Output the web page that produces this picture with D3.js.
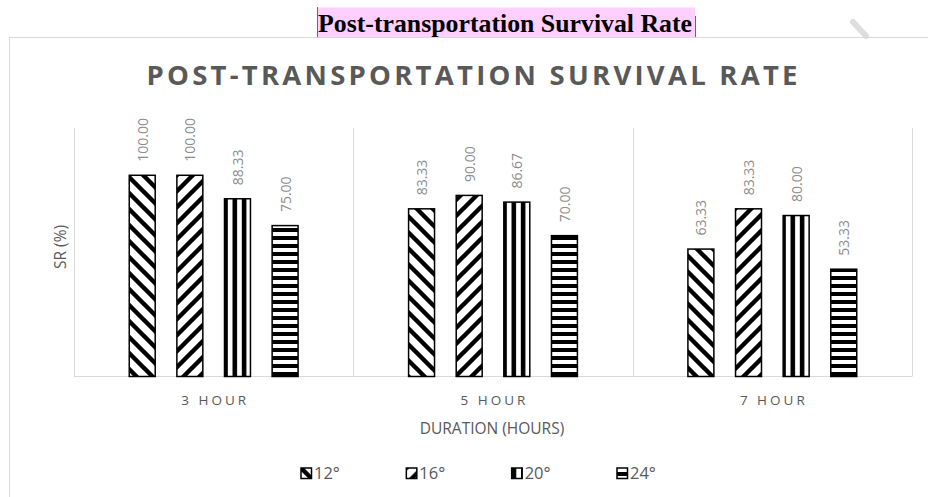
<!DOCTYPE html>
<html lang="en">
<head>
    <meta charset="UTF-8">
    <title>Post-transportation Survival Rate</title>
    <style>
        body { margin: 0; background: #fff; }
        svg { display: block; }
    </style>
</head>
<body>
    <div id="chart"></div>
    <script src="https://d3js.org/d3.v7.min.js"></script>
    <script>
        const categories = ["3 HOUR", "5 HOUR", "7 HOUR"];
        const seriesNames = ["12°", "16°", "20°", "24°"];
        const values12 = [100.00, 83.33, 63.33];
        const values16 = [100.00, 90.00, 83.33];
        const values20 = [88.33, 86.67, 80.00];
        const values24 = [75.00, 70.00, 53.33];
        const seriesValues = [values12, values16, values20, values24];
        const patternIds = ["diagDown", "diagUp", "vStripe", "hStripe"];

        const width = 928;
        const height = 497;
        const plot = {left: 74, right: 912, top: 128, bottom: 376.5};

        const svg = d3.select("#chart").append("svg")
            .attr("width", width)
            .attr("height", height);

        // patterns
        const defs = svg.append("defs");
        const diag = (id, flip) => {
            const p = defs.append("pattern")
                .attr("id", id)
                .attr("patternUnits", "userSpaceOnUse")
                .attr("width", 16)
                .attr("height", 16);
            p.append("rect").attr("width", 16).attr("height", 16).attr("fill", "#fff");
            const d = flip
                ? "M-4,4 L4,-4 M0,16 L16,0 M12,20 L20,12"
                : "M-4,12 L4,20 M0,0 L16,16 M12,-4 L20,4";
            p.append("path").attr("d", d)
                .attr("stroke", "#000")
                .attr("stroke-width", 4.4);
        };
        diag("diagDown", false);
        diag("diagUp", true);

        const vp = defs.append("pattern")
            .attr("id", "vStripe")
            .attr("patternUnits", "userSpaceOnUse")
            .attr("width", 9.3).attr("height", 10);
        vp.append("rect").attr("width", 9.3).attr("height", 10).attr("fill", "#fff");
        vp.append("rect").attr("width", 4.6).attr("height", 10).attr("fill", "#000");

        const hp = defs.append("pattern")
            .attr("id", "hStripe")
            .attr("patternUnits", "userSpaceOnUse")
            .attr("width", 10).attr("height", 8);
        hp.append("rect").attr("width", 10).attr("height", 8).attr("fill", "#fff");
        hp.append("rect").attr("y", 4).attr("width", 10).attr("height", 4).attr("fill", "#000");

        // header strip above the chart
        svg.append("rect")
            .attr("x", 317).attr("y", 7.5)
            .attr("width", 378).attr("height", 29.5)
            .attr("fill", "#ffd0ff");
        svg.append("line")
            .attr("x1", 317.5).attr("x2", 317.5).attr("y1", 7).attr("y2", 37)
            .attr("stroke", "#a040a0");
        svg.append("line")
            .attr("x1", 695.5).attr("x2", 695.5).attr("y1", 16).attr("y2", 37)
            .attr("stroke", "#a040a0");
        svg.append("line")
            .attr("x1", 695).attr("x2", width).attr("y1", 37.5).attr("y2", 37.5)
            .attr("stroke", "#b060b0")
            .attr("stroke-dasharray", "1,1");
        svg.append("text")
            .attr("x", 318).attr("y", 31.5)
            .attr("font-family", "'Liberation Serif', 'Times New Roman', serif")
            .attr("font-weight", "bold")
            .attr("font-size", 25.8)
            .attr("fill", "#000")
            .text("Post-transportation Survival Rate");
        svg.append("line")
            .attr("x1", 853).attr("y1", 22).attr("x2", 866).attr("y2", 36)
            .attr("stroke", "#dedede")
            .attr("stroke-width", 6)
            .attr("stroke-linecap", "round");

        // chart border
        svg.append("rect")
            .attr("x", 9.5).attr("y", 37.5)
            .attr("width", 960).attr("height", 500)
            .attr("fill", "none")
            .attr("stroke", "#d9d9d9");

        // scales
        const x0 = d3.scaleBand()
            .domain(categories)
            .range([plot.left, plot.right]);
        const x1 = d3.scaleBand()
            .domain(seriesNames)
            .range([0, x0.bandwidth()])
            .paddingInner(0.455)
            .paddingOuter(1.16);
        const y = d3.scaleLinear()
            .domain([0, 123.5])
            .range([plot.bottom, plot.top]);

        // vertical gridlines between categories
        const gridX = categories.map(c => x0(c)).concat([plot.right]);
        svg.append("g")
            .selectAll("line")
            .data(gridX)
            .join("line")
            .attr("x1", d => Math.round(d) + 0.5)
            .attr("x2", d => Math.round(d) + 0.5)
            .attr("y1", plot.top)
            .attr("y2", plot.bottom)
            .attr("stroke", "#d9d9d9");

        svg.append("line")
            .attr("x1", plot.left).attr("x2", plot.right)
            .attr("y1", plot.bottom).attr("y2", plot.bottom)
            .attr("stroke", "#d9d9d9");

        // bars
        const barData = [];
        seriesNames.forEach((s, i) => {
            categories.forEach((c, j) => {
                barData.push({cat: c, series: s, value: seriesValues[i][j], pat: patternIds[i]});
            });
        });

        svg.append("g")
            .selectAll("rect")
            .data(barData)
            .join("rect")
            .attr("x", d => x0(d.cat) + x1(d.series))
            .attr("y", d => y(d.value))
            .attr("width", x1.bandwidth())
            .attr("height", d => y(0) - y(d.value))
            .attr("fill", d => `url(#${d.pat})`)
            .attr("stroke", "#000")
            .attr("stroke-width", 1.5);

        // value labels
        svg.append("g")
            .attr("font-family", "'Open Sans', sans-serif")
            .attr("font-size", 14)
            .attr("fill", "#8c8c8c")
            .selectAll("text")
            .data(barData)
            .join("text")
            .attr("transform", d => {
                const cx = x0(d.cat) + x1(d.series) + x1.bandwidth() / 2 + 5.5;
                return `translate(${cx},${y(d.value) - 13.5}) rotate(-90)`;
            })
            .text(d => d.value.toFixed(2));

        // category labels
        svg.append("g")
            .attr("font-family", "'Open Sans', sans-serif")
            .attr("font-size", 13.5)
            .attr("letter-spacing", 3)
            .attr("fill", "#595959")
            .attr("text-anchor", "middle")
            .selectAll("text")
            .data(categories)
            .join("text")
            .attr("x", d => x0(d) + x0.bandwidth() / 2 + 1.5)
            .attr("y", 405)
            .text(d => d);

        // titles
        svg.append("text")
            .attr("x", 472).attr("y", 84.5)
            .attr("text-anchor", "middle")
            .attr("font-family", "'Open Sans', sans-serif")
            .attr("font-weight", "bold")
            .attr("font-size", 27.5)
            .attr("fill", "#595959")
            .attr("textLength", 651)
            .attr("lengthAdjust", "spacing")
            .text("POST-TRANSPORTATION SURVIVAL RATE");

        svg.append("text")
            .attr("x", 492).attr("y", 434)
            .attr("text-anchor", "middle")
            .attr("font-family", "'Open Sans', sans-serif")
            .attr("font-size", 15.5)
            .attr("fill", "#595959")
            .text("DURATION (HOURS)");

        svg.append("text")
            .attr("transform", "translate(66,247) rotate(-90)")
            .attr("text-anchor", "middle")
            .attr("font-family", "'Open Sans', sans-serif")
            .attr("font-size", 15.5)
            .attr("fill", "#595959")
            .text("SR (%)");

        // legend
        const legendX = d3.scalePoint()
            .domain(seriesNames)
            .range([301, 617]);
        const legend = svg.append("g")
            .selectAll("g")
            .data(seriesNames)
            .join("g")
            .attr("transform", d => `translate(${legendX(d)},468)`);
        legend.append("rect")
            .attr("width", 10.5).attr("height", 10.5)
            .attr("fill", (d, i) => `url(#${patternIds[i]})`)
            .attr("stroke", "#000")
            .attr("stroke-width", 1.5);
        legend.append("text")
            .attr("x", 13).attr("y", 11)
            .attr("font-family", "'Open Sans', sans-serif")
            .attr("font-size", 16.5)
            .attr("fill", "#595959")
            .text(d => d);
    </script>
</body>
</html>
